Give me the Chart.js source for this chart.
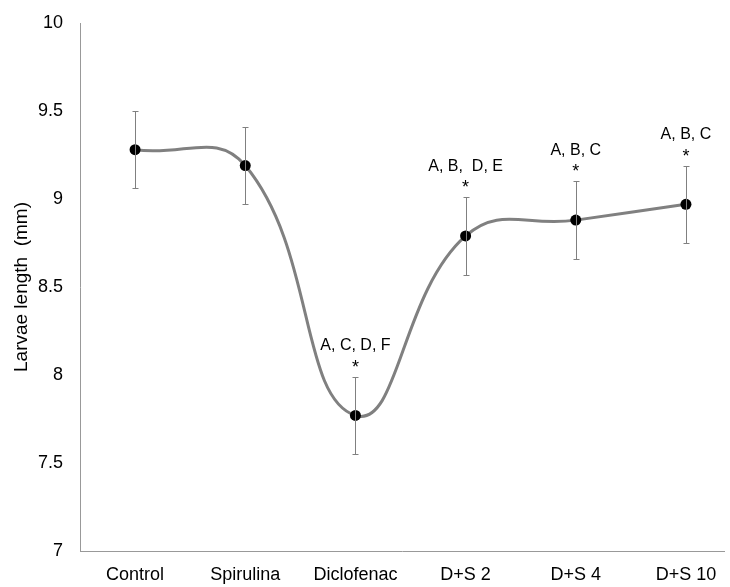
<!DOCTYPE html>
<html><head><meta charset="utf-8">
<script src="https://cdn.jsdelivr.net/npm/chart.js@4/dist/chart.umd.min.js"></script>
<style>html,body{margin:0;padding:0;background:#fff}#wrap{width:730px;height:587px}</style>
</head><body><div id="wrap"><canvas id="c"></canvas></div>
<script>
const categories = ["Control", "Spirulina", "Diclofenac", "D+S 2", "D+S 4", "D+S 10"];
const means = [9.28, 9.19, 7.77, 8.79, 8.88, 8.97];
const errors = [0.22, 0.22, 0.22, 0.22, 0.22, 0.22];
const letters = ["", "", "A, C, D, F", "A, B,  D, E", "A, B, C", "A, B, C"];
const stars = [false, false, true, true, true, true];
const yTicks = [7, 7.5, 8, 8.5, 9, 9.5, 10];

const FONT = '"Liberation Sans", Arial, sans-serif';

const errPlugin = {
  id: 'err',
  afterDatasetsDraw(chart) {
    const ctx = chart.ctx, xs = chart.scales.x, ys = chart.scales.y;
    ctx.save();
    ctx.strokeStyle = '#808080'; ctx.lineWidth = 1;
    means.forEach((m, i) => {
      const x = Math.round(xs.getPixelForValue(i)) + 0.5;
      const t = Math.round(ys.getPixelForValue(m + errors[i])) + 0.5;
      const b = Math.round(ys.getPixelForValue(m - errors[i])) + 0.5;
      ctx.beginPath();
      ctx.moveTo(x, t); ctx.lineTo(x, b);
      ctx.moveTo(x - 3, t); ctx.lineTo(x + 3, t);
      ctx.moveTo(x - 3, b); ctx.lineTo(x + 3, b);
      ctx.stroke();
    });
    ctx.fillStyle = '#000'; ctx.textAlign = 'center'; ctx.textBaseline = 'middle';
    means.forEach((m, i) => {
      const x = xs.getPixelForValue(i);
      const t = ys.getPixelForValue(m + errors[i]);
      if (stars[i]) { ctx.font = '18px ' + FONT; ctx.fillText('*', x, t - 9); }
      if (letters[i]) { ctx.font = '16px ' + FONT; ctx.fillText(letters[i], x, t - 31); }
    });
    ctx.restore();
  }
};

new Chart(document.getElementById('c'), {
  type: 'line',
  data: { datasets: [{
    data: means.map((v, i) => ({x: i, y: v})),
    borderColor: '#808080', borderWidth: 3, tension: 0.45,
    pointRadius: 5.5, pointBackgroundColor: '#000', pointBorderColor: '#000', pointBorderWidth: 0,
    fill: false
  }]},
  options: {
    responsive: true, maintainAspectRatio: false, animation: false,
    layout: { padding: { top: 0, right: 0, left: 0, bottom: 0 } },
    plugins: { legend: { display: false }, tooltip: { enabled: false } },
    scales: {
      x: {
        type: 'linear', min: -0.5, max: 5.35,
        afterBuildTicks(s) { s.ticks = categories.map((c, i) => ({value: i})); },
        afterFit(s) { s.height = 36; },
        ticks: { callback: (v) => categories[v], color: '#000', font: { size: 18, family: FONT }, padding: 5, maxRotation: 0, autoSkip: false },
        grid: { display: false },
        border: { display: true, color: '#999', width: 1 }
      },
      y: {
        min: 7, max: 10,
        afterBuildTicks(s) { s.ticks = yTicks.map(v => ({value: v})); },
        afterFit(s) { s.width = 80; s.paddingTop = 23; },
        ticks: { callback: (v) => String(v), color: '#000', font: { size: 18, family: FONT }, padding: 9 },
        grid: { display: false },
        border: { display: true, color: '#999', width: 1 },
        title: { display: true, text: 'Larvae length  (mm)', color: '#000', font: { size: 19, family: FONT }, padding: { top: 10, bottom: 4 } }
      }
    }
  },
  plugins: [errPlugin]
});
</script></body></html>
